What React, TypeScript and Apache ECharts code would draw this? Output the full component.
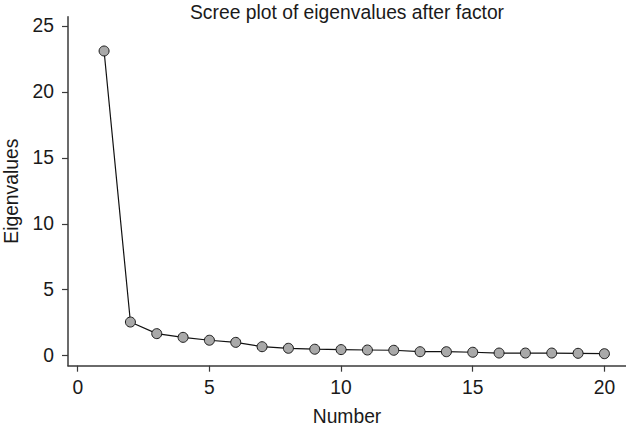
import React, { useEffect, useRef } from "react";
import * as echarts from "echarts";

const numbers = [1, 2, 3, 4, 5, 6, 7, 8, 9, 10, 11, 12, 13, 14, 15, 16, 17, 18, 19, 20];
const eigenvalues = [23.1, 2.55, 1.67, 1.39, 1.17, 1.01, 0.68, 0.56, 0.49, 0.46, 0.43, 0.41, 0.3, 0.3, 0.26, 0.2, 0.2, 0.2, 0.18, 0.15];
const xTicks = [0, 5, 10, 15, 20];
const yTicks = [0, 5, 10, 15, 20, 25];

const FONT = "'Liberation Sans', Arial, Helvetica, sans-serif";
const TEXT = "#1a1a1a";
const AXIS = "#3a3a3a";
const FS = 19.3;

export default function App() {
  const ref = useRef<HTMLDivElement>(null);
  useEffect(() => {
    document.body.style.margin = "0";
    if (!ref.current) return;
    const chart = echarts.init(ref.current, undefined, { renderer: "svg" });
    chart.setOption({
      animation: false,
      backgroundColor: "#ffffff",
      textStyle: { fontFamily: FONT },
      title: {
        text: "Scree plot of eigenvalues after factor",
        left: 342,
        textAlign: "center",
        top: -2,
        textStyle: { fontFamily: FONT, fontSize: FS, fontWeight: "normal", color: TEXT },
      },
      grid: { left: 68, right: 0, top: 16.7, bottom: 61.3, containLabel: false, outerBoundsMode: "none" },
      xAxis: {
        type: "value",
        min: -0.37,
        max: 20.82,
        name: "Number",
        nameLocation: "middle",
        nameGap: 41,
        nameTextStyle: { fontFamily: FONT, fontSize: FS, color: TEXT },
        axisLine: { show: true, onZero: false, lineStyle: { color: AXIS, width: 1.5 } },
        axisTick: { show: true, length: 6, customValues: xTicks, lineStyle: { color: AXIS, width: 1.2 } },
        axisLabel: { customValues: xTicks, margin: 12, fontFamily: FONT, fontSize: FS, color: TEXT },
        splitLine: { show: false },
      },
      yAxis: {
        type: "value",
        min: -0.76,
        max: 25.7,
        name: "Eigenvalues",
        nameLocation: "middle",
        nameGap: 47.5,
        nameRotate: 90,
        nameTextStyle: { fontFamily: FONT, fontSize: FS, color: TEXT },
        axisLine: { show: true, onZero: false, lineStyle: { color: AXIS, width: 1.5 } },
        axisTick: { show: true, length: 6, customValues: yTicks, lineStyle: { color: AXIS, width: 1.2 } },
        axisLabel: { customValues: yTicks, margin: 14, fontFamily: FONT, fontSize: FS, color: TEXT },
        splitLine: { show: false },
      },
      series: [
        {
          type: "line",
          data: numbers.map((n, i) => [n, eigenvalues[i]]),
          symbol: "circle",
          symbolSize: 10,
          lineStyle: { color: "#111111", width: 1.2 },
          itemStyle: { color: "#a9a9a9", borderColor: "#1a1a1a", borderWidth: 1 },
          z: 3,
        },
      ],
    });
    return () => chart.dispose();
  }, []);
  return <div ref={ref} style={{ width: 626, height: 427 }} />;
}
